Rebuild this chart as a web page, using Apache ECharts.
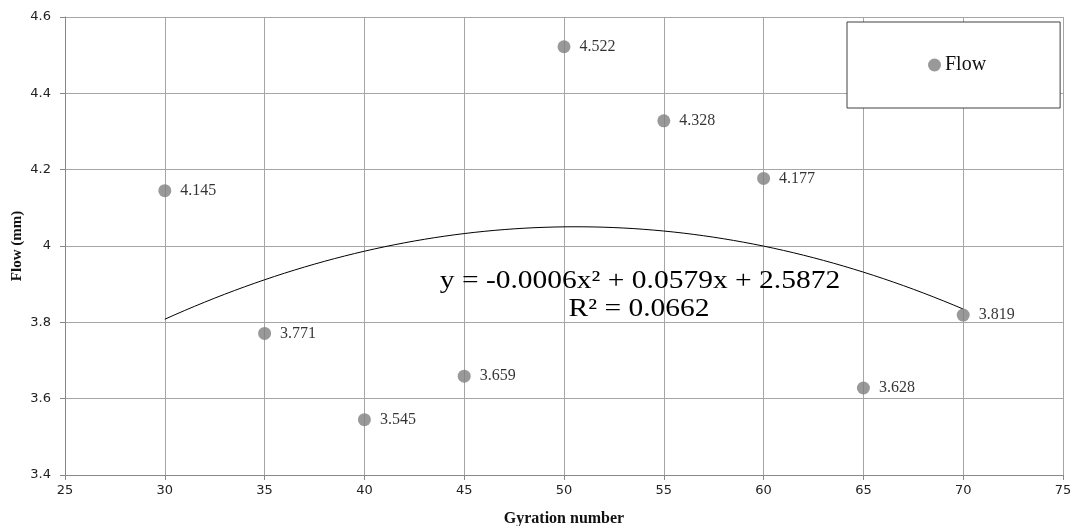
<!DOCTYPE html>
<html><head><meta charset="utf-8">
<script src="https://cdn.jsdelivr.net/npm/echarts@6/dist/echarts.min.js"></script>
<style>html,body{margin:0;padding:0;background:#fff}#c{width:1073px;height:526px}</style>
</head><body><div id="c"></div>
<script>
const gyration = [30, 35, 40, 45, 50, 55, 60, 65, 70];
const flow = [4.145, 3.771, 3.545, 3.659, 4.522, 4.328, 4.177, 3.628, 3.819];
const equationText = 'y = -0.0006x\u00B2 + 0.0579x + 2.5872';
const r2Text = 'R\u00B2 = 0.0662';

// least-squares quadratic trend line from the data
function quadFit(xs, ys) {
  let S = [0,0,0,0,0], T = [0,0,0];
  for (let i = 0; i < xs.length; i++) {
    let p = 1;
    for (let k = 0; k < 5; k++) { S[k] += p; if (k < 3) T[k] += p * ys[i]; p *= xs[i]; }
  }
  const A = [[S[0],S[1],S[2],T[0]],[S[1],S[2],S[3],T[1]],[S[2],S[3],S[4],T[2]]];
  for (let i = 0; i < 3; i++) {
    for (let j = i+1; j < 3; j++) {
      const f = A[j][i] / A[i][i];
      for (let k = i; k < 4; k++) A[j][k] -= f * A[i][k];
    }
  }
  const c = [0,0,0];
  for (let i = 2; i >= 0; i--) {
    let s = A[i][3];
    for (let k = i+1; k < 3; k++) s -= A[i][k] * c[k];
    c[i] = s / A[i][i];
  }
  return c;
}
const coef = quadFit(gyration, flow);
const trend = [];
for (let x = gyration[0]; x <= gyration[gyration.length-1] + 1e-9; x += 0.5) {
  trend.push([x, coef[0] + coef[1]*x + coef[2]*x*x]);
}

const chart = echarts.init(document.getElementById('c'));
chart.setOption({
  animation: false,
  grid: { left: 65, right: 10, top: 17, bottom: 51, containLabel: false, outerBoundsMode: 'none' },
  xAxis: {
    type: 'value', min: 25, max: 75, interval: 5,
    name: 'Gyration number', nameLocation: 'middle', nameGap: 36, nameMoveOverlap: false,
    nameTextStyle: { fontFamily: 'Liberation Serif', fontWeight: 'bold', fontSize: 16, color: '#111' },
    axisLine: { lineStyle: { color: '#888' } },
    axisTick: { show: true, length: 5, lineStyle: { color: '#888' } },
    axisLabel: { fontFamily: 'DejaVu Sans', fontSize: 13, color: '#222', margin: 9 },
    splitLine: { lineStyle: { color: '#a6a6a6', width: 1 } }
  },
  yAxis: {
    type: 'value', min: 3.4, max: 4.6, interval: 0.2,
    name: 'Flow (mm)', nameLocation: 'middle', nameGap: 40, nameMoveOverlap: false,
    nameTextStyle: { fontFamily: 'Liberation Serif', fontWeight: 'bold', fontSize: 15, color: '#111' },
    axisLine: { show: true, lineStyle: { color: '#888' } },
    axisTick: { show: true, length: 5, lineStyle: { color: '#888' } },
    axisLabel: { fontFamily: 'DejaVu Sans', fontSize: 13, color: '#222', margin: 14,
      formatter: v => String(Math.round(v*10)/10) },
    splitLine: { lineStyle: { color: '#a6a6a6', width: 1 } }
  },
  legend: {
    data: [{ name: 'Flow', icon: 'circle' }],
    left: 847, top: 22,
    padding: [33, 74, 33, 81],
    itemWidth: 13, itemHeight: 13, itemGap: 4,
    borderColor: '#404040', borderWidth: 1, backgroundColor: '#fff',
    textStyle: { fontFamily: 'Liberation Serif', fontSize: 20, color: '#111', padding: [0,0,0,-1] }
  },
  series: [
    {
      name: 'Trend', type: 'line', data: trend, showSymbol: false, symbol: 'none',
      lineStyle: { color: '#000', width: 1 }, z: 3, silent: true
    },
    {
      name: 'Flow', type: 'scatter', data: gyration.map((x, i) => [x, flow[i]]),
      symbol: 'circle', symbolSize: 13,
      itemStyle: { color: '#7f7f7f' }, z: 4,
      label: { show: true, position: 'right', distance: 9,
        formatter: p => String(p.value[1]),
        fontFamily: 'Liberation Serif', fontSize: 16, color: '#000' }
    }
  ],
  graphic: [
    { type: 'text', x: 640, y: 281, z: 10, scaleX: 1.18,
      style: { text: equationText, fill: '#000', font: '25px "Liberation Serif"', textAlign: 'center', textVerticalAlign: 'middle' } },
    { type: 'text', x: 639, y: 309, z: 10, scaleX: 1.18,
      style: { text: r2Text, fill: '#000', font: '25px "Liberation Serif"', textAlign: 'center', textVerticalAlign: 'middle' } }
  ]
});
</script></body></html>
